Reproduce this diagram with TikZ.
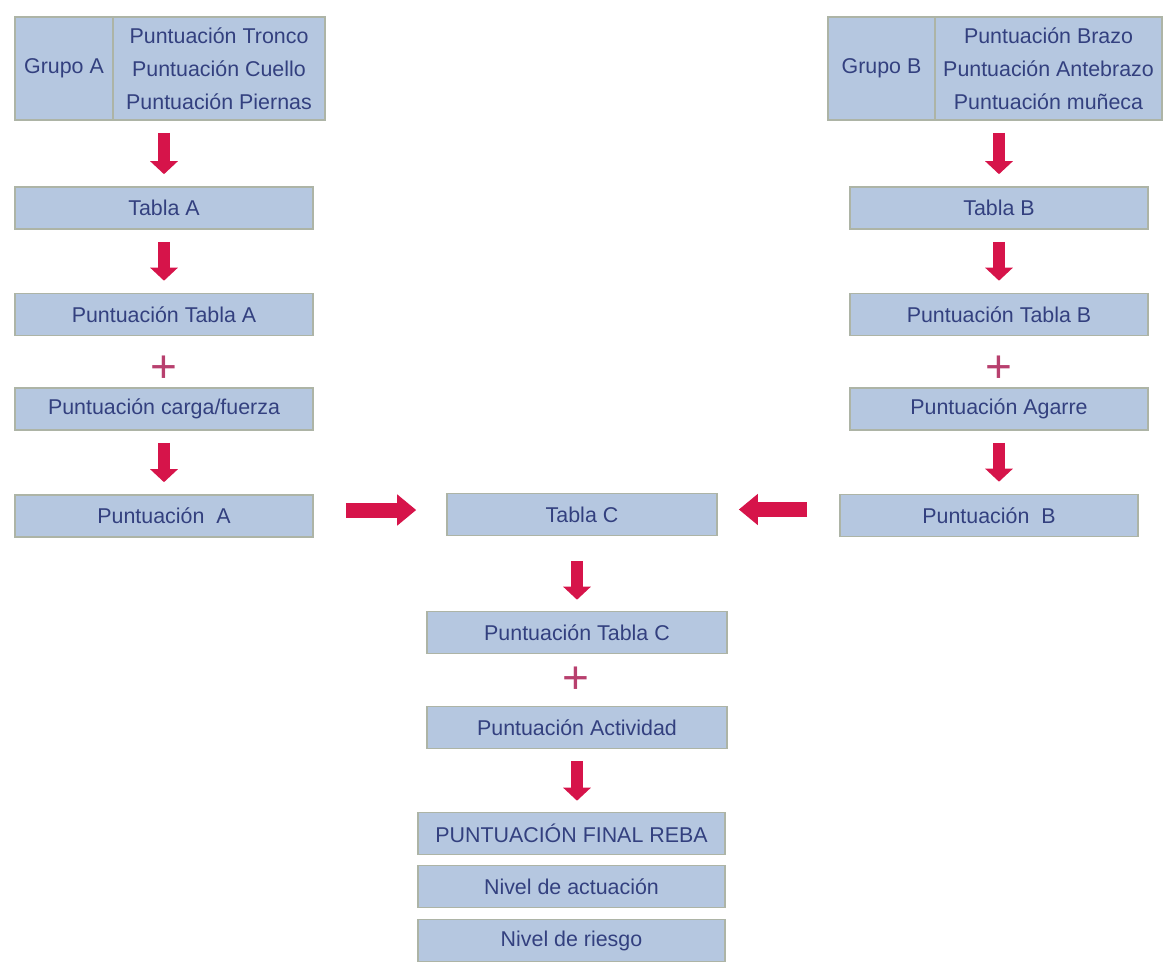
\documentclass[tikz,border=0pt]{standalone}
\usepackage{fontspec}
\setmainfont{Liberation Sans}
\usetikzlibrary{arrows.meta}

\definecolor{cajafondo}{HTML}{B5C7E0}
\definecolor{cajaborde}{HTML}{ADB4A6}
\definecolor{textoazul}{HTML}{33407F}
\definecolor{flecharoja}{HTML}{D6144A}
\definecolor{masrojo}{HTML}{B8406E}

\begin{document}
\begin{tikzpicture}[x=0.5pt,y=-0.5pt,
    caja/.style={draw=cajaborde, line width=0.8pt, fill=cajafondo, text=textoazul,
        minimum width=149pt, minimum height=21pt, inner sep=0pt, align=center,
        font=\fontsize{10.7}{16.5}\selectfont},
    flecha/.style={draw=flecharoja, line width=6pt, -{Triangle[width=13.5pt,length=6.5pt]},
        shorten <=6pt, shorten >=6pt},
    flechah/.style={draw=flecharoja, line width=7.5pt, -{Triangle[width=15pt,length=9.5pt]},
        transform canvas={yshift=3pt}},
    mas/.style={text=masrojo, inner sep=0pt, font=\fontsize{23}{23}\selectfont}]

    \useasboundingbox (0,0) rectangle (1170,969);

    % Group A column
    \node[caja, minimum width=49pt, minimum height=51.5pt] (grupoA) at (64,68.5) {Grupo A};
    \node[caja, minimum width=106pt, minimum height=51.5pt] (grupoAdatos) at (219,68.5)
        {Puntuación Tronco\\Puntuación Cuello\\Puntuación Piernas};
    \node[caja] (tablaA) at (164,208) {Tabla A};
    \node[caja] (puntTablaA) at (164,314.5) {Puntuación Tabla A};
    \node[mas] (masA) at (164,369) {+};
    \node[caja] (carga) at (164,409) {Puntuación carga/fuerza};
    \node[caja] (puntA) at (164,516) {Puntuación \ A};

    % Group B column
    \node[caja, minimum width=53.5pt, minimum height=51.5pt] (grupoB) at (881.5,68.5) {Grupo B};
    \node[caja, minimum width=113.5pt, minimum height=51.5pt] (grupoBdatos) at (1048.5,68.5)
        {Puntuación Brazo\\Puntuación Antebrazo\\Puntuación muñeca};
    \node[caja] (tablaB) at (999,208) {Tabla B};
    \node[caja] (puntTablaB) at (999,314.5) {Puntuación Tabla B};
    \node[mas] (masB) at (999,369) {+};
    \node[caja] (agarre) at (999,409) {Puntuación Agarre};
    \node[caja] (puntB) at (989,515.5) {Puntuación \ B};

    % Middle column
    \node[caja, minimum width=135pt] (tablaC) at (582,514.5) {Tabla C};
    \node[caja, minimum width=150pt] (puntTablaC) at (577,632.5) {Puntuación Tabla C};
    \node[mas] (masC) at (576,680) {+};
    \node[caja, minimum width=150pt] (actividad) at (577,727.5) {Puntuación Actividad};
    \node[caja, minimum width=153.5pt] (final) at (571.5,833.5) {PUNTUACIÓN FINAL REBA};
    \node[caja, minimum width=153.5pt] (nivelAct) at (571.5,886.5) {Nivel de actuación};
    \node[caja, minimum width=153.5pt] (nivelRiesgo) at (571.5,940.5) {Nivel de riesgo};

    % Arrows down the side columns
    \draw[flecha] (grupoAdatos.south -| tablaA.north) -- (tablaA.north);
    \draw[flecha] (tablaA) -- (puntTablaA);
    \draw[flecha] (carga) -- (puntA);
    \draw[flecha] (grupoBdatos.south -| tablaB.north) -- (tablaB.north);
    \draw[flecha] (tablaB) -- (puntTablaB);
    \draw[flecha] (agarre.south) -- (agarre.south |- puntB.north);

    % Arrows into Tabla C
    \draw[flechah, shorten <=16pt, shorten >=15pt] (puntA.east) -- (puntA.east -| tablaC.west);
    \draw[flechah, shorten <=16pt, shorten >=10.5pt] (puntB.west) -- (puntB.west -| tablaC.east);

    % Arrows down the middle
    \draw[flecha, shorten <=12.5pt, shorten >=5.5pt] (tablaC.south -| puntTablaC.north) -- (puntTablaC.north);
    \draw[flecha, shorten >=5.5pt] (actividad.south) -- (actividad.south |- final.north);

\end{tikzpicture}
\end{document}
